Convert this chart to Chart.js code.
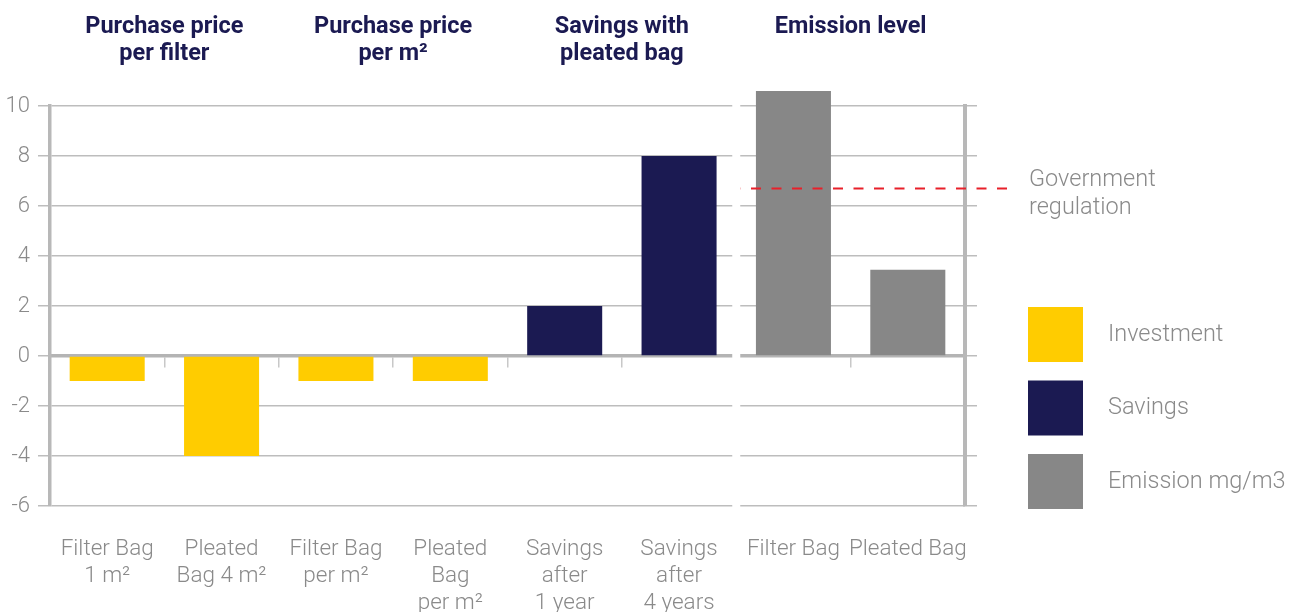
<!DOCTYPE html>
<html>
<head>
<meta charset="utf-8">
<script src="https://cdn.jsdelivr.net/npm/chart.js@4.4.1/dist/chart.umd.min.js"></script>
<style>
    html, body { margin: 0; padding: 0; background: #fff; }
    #wrap { width: 1301px; height: 612px; position: relative; }
</style>
</head>
<body>
<div id="wrap"><canvas id="bag-chart"></canvas></div>
<script>
const categories = [
    ['Filter Bag', '1 m²'],
    ['Pleated', 'Bag 4 m²'],
    ['Filter Bag', 'per m²'],
    ['Pleated', 'Bag', 'per m²'],
    ['Savings', 'after', '1 year'],
    ['Savings', 'after', '4 years'],
    'Filter Bag',
    'Pleated Bag'
];
const investment = [-1, -4, -1, -1, null, null, null, null];
const savings = [null, null, null, null, 2, 8, null, null];
const emission = [null, null, null, null, null, null, 10.6, 3.45];

const groupTitles = [
    ['Purchase price', 'per filter'],
    ['Purchase price', 'per m²'],
    ['Savings with', 'pleated bag'],
    ['Emission level']
];
const regulationLevel = 6.7;
const regulationLabel = ['Government', 'regulation'];
const yMin = -6;
const yMax = 10;
const yStep = 2;

const NAVY = '#1b1a52';
const TEXT_GREY = '#8a8a8a';
const LINE_GREY = '#bdbdbd';
const FAMILY = 'Roboto, "DejaVu Sans", sans-serif';

Chart.defaults.font.family = FAMILY;

// headers, split between the two blocks, regulation line and the legend
const sectionPlugin = {
    id: 'sections',
    afterDraw(chart) {
        const {ctx, chartArea, scales: {x, y}} = chart;
        ctx.save();

        // break the grid between the cost block and the emission block
        const gapX = (x.getPixelForValue(5) + x.getPixelForValue(6)) / 2;
        ctx.fillStyle = '#fff';
        ctx.fillRect(gapX - 4, chartArea.top - 2, 8, chartArea.bottom - chartArea.top + 16);

        // group headers
        ctx.fillStyle = NAVY;
        ctx.font = 'bold 23.5px ' + FAMILY;
        ctx.textAlign = 'center';
        ctx.textBaseline = 'middle';
        groupTitles.forEach((lines, i) => {
            const cx = (x.getPixelForValue(i * 2) + x.getPixelForValue(i * 2 + 1)) / 2;
            lines.forEach((line, j) => ctx.fillText(line, cx, 27 + j * 27));
        });

        // government regulation line
        const ry = y.getPixelForValue(regulationLevel);
        ctx.strokeStyle = '#e8202a';
        ctx.lineWidth = 2;
        ctx.setLineDash([10, 10.5]);
        ctx.beginPath();
        ctx.moveTo(chartArea.right + 42, ry);
        ctx.lineTo(gapX + 4, ry);
        ctx.stroke();
        ctx.setLineDash([]);

        ctx.fillStyle = TEXT_GREY;
        ctx.font = '300 23.5px ' + FAMILY;
        ctx.textAlign = 'left';
        regulationLabel.forEach((line, j) => ctx.fillText(line, chartArea.right + 64, 180 + j * 28));

        // legend
        const lx = chartArea.right + 63;
        chart.data.datasets.forEach((ds, i) => {
            const top = 307 + i * 73.5;
            ctx.fillStyle = ds.backgroundColor;
            ctx.fillRect(lx, top, 55, 55);
            ctx.fillStyle = TEXT_GREY;
            ctx.fillText(ds.label, lx + 80, top + 28);
        });

        ctx.restore();
    }
};

new Chart(document.getElementById('bag-chart').getContext('2d'), {
    type: 'bar',
    data: {
        labels: categories,
        datasets: [
            { label: 'Investment', data: investment, backgroundColor: '#ffcc00' },
            { label: 'Savings', data: savings, backgroundColor: NAVY },
            { label: 'Emission mg/m3', data: emission, backgroundColor: '#878787', clip: false }
        ]
    },
    options: {
        responsive: true,
        maintainAspectRatio: false,
        animation: false,
        layout: {
            padding: { top: 106, right: 324, left: 0, bottom: 0 }
        },
        datasets: {
            bar: { grouped: false, categoryPercentage: 1, barPercentage: 0.656 }
        },
        plugins: {
            legend: { display: false },
            tooltip: { enabled: false }
        },
        scales: {
            x: {
                grid: { display: false },
                border: { display: false },
                ticks: {
                    color: TEXT_GREY,
                    font: { size: 22.5, weight: 300, lineHeight: 1.2 },
                    padding: 22,
                    maxRotation: 0,
                    autoSkip: false
                },
                afterFit: (scale) => { scale.height = 106; }
            },
            // axis line through zero with the category tick marks
            x0: {
                type: 'category',
                position: { y: 0 },
                offset: true,
                z: 1,
                grid: {
                    offset: true,
                    drawOnChartArea: false,
                    tickLength: 10,
                    color: '#c8c8c8',
                    lineWidth: 1.5
                },
                border: { display: true, color: '#b4b4b4', width: 3.5 },
                ticks: { display: false }
            },
            y: {
                min: yMin,
                max: yMax,
                ticks: {
                    stepSize: yStep,
                    color: TEXT_GREY,
                    font: { size: 22, weight: 300 },
                    padding: 8
                },
                grid: { color: LINE_GREY, lineWidth: 1.5, tickLength: 12 },
                border: { color: '#b8b8b8', width: 3.5 },
                afterFit: (scale) => { scale.width = 50; }
            },
            y2: {
                position: 'right',
                min: yMin,
                max: yMax,
                ticks: { display: false, stepSize: yStep },
                grid: { drawOnChartArea: false, color: LINE_GREY, lineWidth: 1.5, tickLength: 12 },
                border: { color: '#b8b8b8', width: 4 },
                afterFit: (scale) => { scale.width = 12; }
            }
        }
    },
    plugins: [sectionPlugin]
});
</script>
</body>
</html>
